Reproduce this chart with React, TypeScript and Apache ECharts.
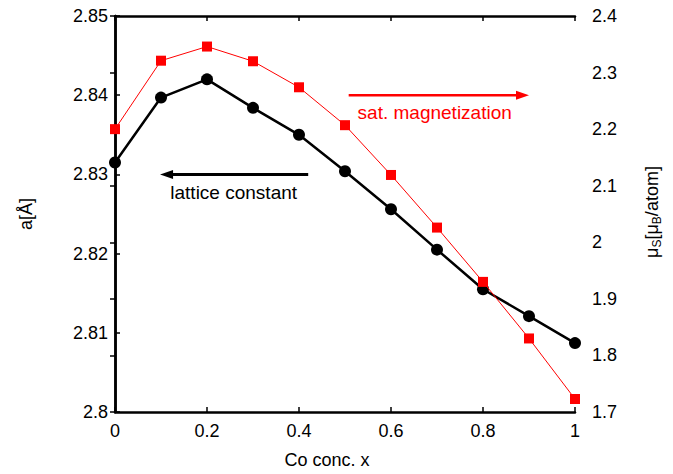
import React, { useEffect, useRef } from "react";
import * as echarts from "echarts";

const coConc = [0, 0.1, 0.2, 0.3, 0.4, 0.5, 0.6, 0.7, 0.8, 0.9, 1.0];
const latticeConstant = [2.8315, 2.8397, 2.8420, 2.8384, 2.8350, 2.8304, 2.8256, 2.8205, 2.8155, 2.8121, 2.8087];
const satMagnetization = [2.200, 2.321, 2.346, 2.320, 2.274, 2.207, 2.119, 2.026, 1.930, 1.830, 1.723];

// annotation anchors in data coordinates (x, left-axis y)
const latticeArrow = { from: [0.42, 2.83], to: [0.098, 2.83], text: "lattice constant", textAt: [0.258, 2.8277] };
const magArrow = { from: [0.508, 2.84], to: [0.9, 2.84], text: "sat. magnetization", textAt: [0.695, 2.8378] };

const FONT = "'Liberation Sans', Arial, Helvetica, sans-serif";
const FS = 18;
const AFS = 19;

export default function App() {
  const ref = useRef<HTMLDivElement>(null);
  useEffect(() => {
    if (!ref.current) return;
    const chart = echarts.init(ref.current, null, { renderer: "svg" });
    const axisLine = { show: true, lineStyle: { color: "#000", width: 2.5 } };
    const axisTick = { show: true, inside: true, length: 5, lineStyle: { color: "#000", width: 1.5 } };
    const axisLabel = { color: "#000", fontSize: FS, fontFamily: FONT };
    chart.setOption({
      animation: false,
      backgroundColor: "#fff",
      textStyle: { fontFamily: FONT },
      grid: { left: 115, right: 98, top: 16, bottom: 59, containLabel: false },
      xAxis: [
        {
          type: "value", min: 0, max: 1, interval: 0.2, position: "bottom",
          axisLine, axisTick, axisLabel: { ...axisLabel, margin: 10 }, splitLine: { show: false },
          name: "Co conc. x", nameLocation: "middle", nameGap: 39,
          nameTextStyle: { color: "#000", fontSize: FS, fontFamily: FONT, padding: [0, 36, 0, 0] },
        },
        {
          type: "value", min: 0, max: 1, interval: 0.2, position: "top",
          axisLine, axisTick, axisLabel: { show: false }, splitLine: { show: false },
        },
      ],
      yAxis: [
        {
          type: "value", min: 2.8, max: 2.85, interval: 0.01, position: "left",
          axisLine, axisTick, axisLabel: { ...axisLabel, margin: 7 }, splitLine: { show: false },
          name: "a[Å]", nameLocation: "middle", nameGap: 80, nameRotate: 90,
          nameTextStyle: { color: "#000", fontSize: FS, fontFamily: FONT },
        },
        {
          type: "value", min: 1.7, max: 2.4, interval: 0.1, position: "right",
          axisLine, axisTick, axisLabel: { ...axisLabel, margin: 17 }, splitLine: { show: false },
          name: "{m|μ}{s|S}{m|[μ}{s|B}{m|/atom]}", nameLocation: "middle", nameGap: 66, nameRotate: 90,
          nameTextStyle: {
            color: "#000", fontSize: FS, fontFamily: FONT, padding: [0, 0, 0, 4],
            rich: {
              m: { fontSize: FS, fontFamily: FONT, color: "#000", lineHeight: 22 },
              s: { fontSize: 12, fontFamily: FONT, color: "#000", lineHeight: 12, verticalAlign: "bottom" },
            },
          },
        },
      ],
      series: [
        {
          name: "lattice constant", type: "line", xAxisIndex: 0, yAxisIndex: 0,
          data: coConc.map((x, i) => [x, latticeConstant[i]]),
          symbol: "circle", symbolSize: 12,
          itemStyle: { color: "#000" }, lineStyle: { color: "#000", width: 2.5 },
          z: 2,
        },
        {
          name: "sat. magnetization", type: "line", xAxisIndex: 0, yAxisIndex: 1,
          data: coConc.map((x, i) => [x, satMagnetization[i]]),
          symbol: "rect", symbolSize: 10,
          itemStyle: { color: "#ff0000" }, lineStyle: { color: "#ff0000", width: 1 },
          z: 3,
        },
      ],
    });

    const px = (p: number[]) => chart.convertToPixel({ xAxisIndex: 0, yAxisIndex: 0 }, p) as number[];
    const arrow = (a: any, color: string, w: number) => {
      const f = px(a.from), t = px(a.to), c = px(a.textAt);
      const dir = Math.sign(t[0] - f[0]);
      const headLen = 13, headHalf = 4.5;
      return [
        { type: "line", shape: { x1: f[0], y1: f[1], x2: t[0] - dir * headLen + dir, y2: t[1] }, style: { stroke: color, lineWidth: w } },
        { type: "polygon", shape: { points: [[t[0], t[1]], [t[0] - dir * headLen, t[1] - headHalf], [t[0] - dir * headLen, t[1] + headHalf]] }, style: { fill: color } },
        { type: "text", x: c[0], y: c[1], style: { text: a.text, fill: color, font: `${AFS}px ${FONT}`, align: "center", verticalAlign: "middle" } },
      ];
    };
    chart.setOption({
      graphic: [...arrow(latticeArrow, "#000", 3), ...arrow(magArrow, "#ff0000", 2.5)],
    });
    return () => chart.dispose();
  }, []);
  return <div ref={ref} style={{ position: "fixed", left: 0, top: 0, width: 673, height: 474 }} />;
}
